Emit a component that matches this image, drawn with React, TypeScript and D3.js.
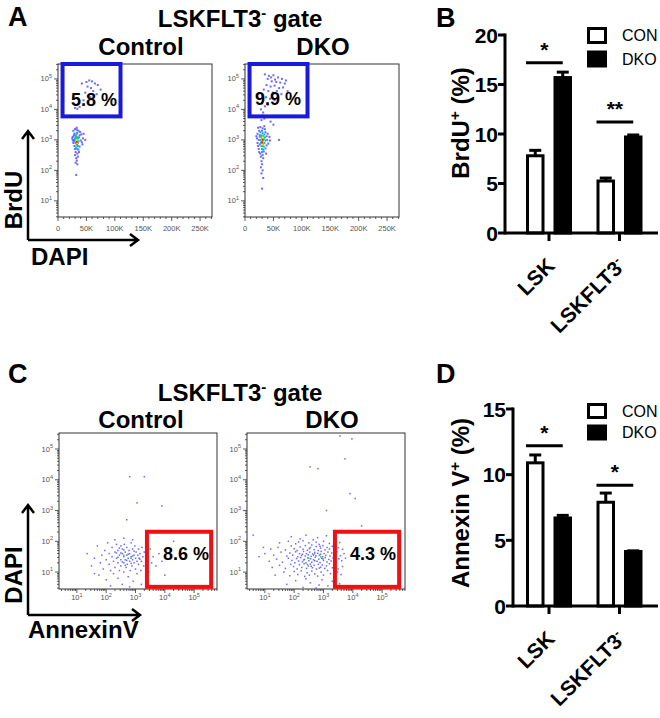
import React from 'react';
import * as d3 from 'd3';

const FONT = 'Arial, "Liberation Sans", Helvetica, sans-serif';

// ---------- bar charts (B: BrdU+, D: Annexin V+) ----------
const groups = ['LSK', 'LSKFLT3'];
const seriesNames = ['CON', 'DKO'];

const brduCon = [7.8, 5.25];
const brduConErr = [0.55, 0.3];
const brduDko = [15.7, 9.7];
const brduDkoErr = [0.55, 0.2];
const brduTicks = [0, 5, 10, 15, 20];
const brduStars = ['*', '**'];
const brduStarLevel = [17.2, 11.2];

const annexCon = [10.9, 7.9];
const annexConErr = [0.6, 0.7];
const annexDko = [6.7, 4.15];
const annexDkoErr = [0.2, 0.05];
const annexTicks = [0, 5, 10, 15];
const annexStars = ['*', '*'];
const annexStarLevel = [12.2, 9.2];

// ---------- flow plots ----------
const brduGatePct = ['5.8 %', '9.9 %'];
const annexGatePct = ['8.6 %', '4.3 %'];
const dapiTicks = [0, 50000, 100000, 150000, 200000, 250000];
const dapiTickLabels = ['0', '50K', '100K', '150K', '200K', '250K'];

// events: [DAPI (K), log10 BrdU, density level]
const brduControlEvents = [
  [27, 3.3, 0], [30, 3.36, 0], [33, 3.33, 0], [36, 3.3, 0], [39, 3.26, 0], [29, 3.21, 0], [34, 3.23, 0],
  [41, 3.18, 0], [26, 3.1, 0], [31, 3.13, 0], [37, 3.08, 0], [44, 3.05, 0], [28, 3.0, 0], [40, 2.98, 0],
  [27, 2.9, 0], [42, 2.92, 0], [29, 2.8, 0], [38, 2.78, 0], [30, 2.7, 0], [36, 2.68, 0], [31, 2.6, 0],
  [34, 2.55, 0], [30, 2.5, 0], [35, 2.45, 0], [32, 2.4, 0], [33, 2.32, 0], [31, 2.25, 0], [34, 2.2, 0],
  [32, 1.85, 0], [48, 3.0, 0], [45, 3.2, 0], [25, 3.05, 0], [33, 3.4, 0], [35, 2.9, 0], [29, 2.95, 0],
  [28, 3.15, 0], [38, 3.15, 0], [43, 2.85, 0], [26, 2.98, 0], [37, 2.6, 0],
  [31, 3.15, 1], [33, 3.1, 1], [35, 3.05, 1], [32, 3.0, 1], [34, 2.95, 1], [31, 2.9, 1], [33, 2.85, 1],
  [35, 2.8, 1], [32, 2.75, 1], [34, 2.7, 1], [33, 3.2, 1], [30, 3.05, 1], [36, 2.95, 1],
  [33, 3.05, 2], [34, 2.95, 2], [32, 2.9, 2], [33, 2.85, 2], [34, 3.0, 2], [32, 3.08, 2],
  [33, 2.95, 3], [34, 2.9, 3], [33, 3.0, 3], [33, 2.93, 4],
  [50, 4.9, 0], [55, 4.95, 0], [60, 4.92, 0], [65, 4.85, 0], [70, 4.8, 0], [52, 4.75, 0], [58, 4.7, 0],
  [62, 4.6, 0], [48, 4.55, 0], [68, 4.5, 0], [75, 4.65, 0], [30, 4.05, 0], [34, 4.02, 0], [38, 4.08, 0],
  [45, 4.3, 0], [57, 4.4, 0], [42, 4.85, 0],
];

const brduDkoEvents = [
  [23, 3.4, 0], [27, 3.42, 0], [31, 3.38, 0], [35, 3.35, 0], [25, 3.3, 0], [30, 3.3, 0], [36, 3.25, 0],
  [40, 3.2, 0], [22, 3.2, 0], [26, 3.15, 0], [38, 3.12, 0], [43, 3.1, 0], [21, 3.05, 0], [24, 3.0, 0],
  [39, 3.0, 0], [44, 2.98, 0], [22, 2.9, 0], [41, 2.88, 0], [23, 2.8, 0], [38, 2.82, 0], [24, 2.7, 0],
  [36, 2.72, 0], [25, 2.6, 0], [33, 2.62, 0], [27, 2.55, 0], [31, 2.5, 0], [28, 2.45, 0], [32, 2.4, 0],
  [29, 2.3, 0], [30, 2.2, 0], [28, 2.1, 0], [31, 2.0, 0], [29, 1.9, 0], [32, 1.75, 0], [30, 1.4, 0],
  [60, 3.0, 0], [50, 3.5, 0], [45, 3.6, 0], [26, 2.85, 0], [37, 2.55, 0], [34, 3.45, 0], [20, 3.12, 0],
  [27, 3.25, 1], [31, 3.22, 1], [34, 3.18, 1], [26, 3.1, 1], [29, 3.1, 1], [35, 3.08, 1], [27, 3.0, 1],
  [36, 2.98, 1], [28, 2.9, 1], [34, 2.9, 1], [29, 2.8, 1], [33, 2.78, 1], [30, 2.7, 1], [32, 2.68, 1],
  [30, 2.6, 1],
  [29, 3.15, 2], [32, 3.12, 2], [30, 3.05, 2], [33, 3.02, 2], [29, 2.95, 2], [31, 2.9, 2], [32, 2.85, 2],
  [30, 2.8, 2], [30, 3.0, 3], [31, 3.08, 3], [32, 2.95, 3], [31, 2.85, 3], [31, 3.0, 4], [30, 2.92, 4],
  [35, 5.15, 0], [42, 5.1, 0], [50, 5.12, 0], [58, 5.05, 0], [65, 5.0, 0], [72, 4.95, 0], [40, 5.0, 0],
  [47, 4.92, 0], [55, 4.9, 0], [62, 4.88, 0], [70, 4.85, 0], [38, 4.8, 0], [45, 4.75, 0], [52, 4.78, 0],
  [60, 4.7, 0], [67, 4.72, 0], [33, 4.65, 0], [41, 4.6, 0], [49, 4.55, 0], [56, 4.6, 0], [64, 4.5, 0],
  [30, 4.45, 0], [37, 4.4, 0], [44, 4.35, 0], [52, 4.3, 0], [30, 4.2, 0], [35, 4.1, 0], [28, 4.0, 0],
  [32, 3.9, 0], [31, 3.8, 0], [34, 3.7, 0], [29, 3.65, 0], [40, 4.15, 0], [58, 4.45, 0], [75, 4.6, 0],
  [46, 5.05, 0], [53, 4.98, 0],
];

// events: [log10 AnnexinV, log10 DAPI, density level]
const annexControlEvents = [
  [1.35, 1.6, 0], [1.5, 1.2, 0], [1.6, 1.45, 0], [1.7, 1.85, 0], [1.75, 0.9, 0], [1.8, 1.3, 0], [1.85, 1.55, 0],
  [1.9, 1.1, 0], [1.95, 1.7, 0], [2.0, 1.4, 0], [2.0, 0.75, 0], [2.05, 1.95, 0], [2.1, 1.25, 0], [2.1, 1.6, 0],
  [2.15, 1.05, 0], [2.2, 1.5, 0], [2.2, 1.8, 0], [2.25, 1.35, 0], [2.25, 0.95, 0], [2.3, 1.65, 0], [2.3, 1.15, 0],
  [2.35, 1.45, 0], [2.35, 1.9, 0], [2.4, 1.3, 0], [2.4, 1.7, 0], [2.4, 0.8, 0], [2.45, 1.55, 0], [2.45, 1.05, 0],
  [2.5, 1.4, 0], [2.5, 1.85, 0], [2.5, 1.2, 0], [2.55, 1.6, 0], [2.55, 0.6, 0], [2.55, 1.75, 0], [2.6, 1.3, 0],
  [2.6, 1.5, 0], [2.6, 1.0, 0], [2.62, 1.9, 0], [2.65, 1.4, 0], [2.65, 1.65, 0], [2.68, 1.15, 0], [2.7, 1.55, 0],
  [2.7, 1.8, 0], [2.72, 1.25, 0], [2.75, 1.45, 0], [2.75, 0.85, 0], [2.78, 1.7, 0], [2.8, 1.35, 0], [2.8, 1.6, 0],
  [2.82, 1.05, 0], [2.85, 1.5, 0], [2.85, 1.95, 0], [2.88, 1.2, 0], [2.9, 1.4, 0], [2.9, 1.75, 0], [2.92, 0.7, 0],
  [2.95, 1.55, 0], [2.95, 1.3, 0], [2.98, 1.85, 0], [3.0, 1.45, 0], [3.0, 1.1, 0], [3.02, 1.65, 0], [3.05, 1.35, 0],
  [3.05, 0.95, 0], [3.08, 1.55, 0], [3.1, 1.75, 0], [3.1, 1.25, 0], [3.12, 1.45, 0], [3.15, 1.6, 0], [3.18, 1.05, 0],
  [3.2, 1.35, 0], [3.22, 1.8, 0], [3.25, 1.5, 0], [3.28, 1.2, 0], [3.3, 1.65, 0], [3.35, 1.4, 0], [3.4, 1.55, 0],
  [3.45, 1.0, 0], [3.5, 1.75, 0], [3.55, 1.3, 0], [3.6, 1.5, 0], [3.7, 1.2, 0], [3.8, 1.6, 0], [3.9, 1.35, 0],
  [4.0, 0.9, 0], [2.3, 2.05, 0], [2.6, 2.1, 0], [2.9, 2.05, 0], [1.6, 0.95, 0], [2.15, 0.55, 0], [2.8, 0.52, 0],
  [3.2, 0.6, 0], [2.5, 1.62, 0], [2.7, 1.38, 0], [2.6, 1.72, 0], [2.85, 1.28, 0], [2.4, 1.48, 0], [2.95, 1.68, 0],
  [2.55, 1.33, 0], [2.75, 1.58, 0], [2.65, 1.22, 0], [2.45, 1.78, 0], [3.15, 1.42, 0], [2.35, 1.62, 0], [2.9, 1.52, 0],
  [2.8, 4.1, 0], [3.3, 4.1, 0], [3.05, 3.25, 0], [3.9, 3.15, 0], [2.7, 2.7, 0], [4.3, 2.0, 0],
  [2.6, 1.55, 2], [2.85, 1.45, 2],
];

const annexDkoEvents = [
  [0.6, 2.2, 0], [0.8, 1.5, 0], [0.95, 1.8, 0], [1.0, 1.6, 0], [1.15, 1.35, 0], [1.2, 1.75, 0], [1.25, 1.15, 0],
  [1.3, 1.55, 0], [1.35, 0.9, 0], [1.4, 1.42, 0], [1.45, 1.8, 0], [1.5, 1.22, 0], [1.5, 1.95, 0], [1.55, 1.65, 0],
  [1.6, 1.32, 0], [1.65, 1.0, 0], [1.7, 1.72, 0], [1.7, 1.12, 0], [1.75, 1.52, 0], [1.75, 0.6, 0], [1.8, 1.45, 0],
  [1.8, 2.0, 0], [1.85, 1.62, 0], [1.85, 0.88, 0], [1.88, 1.25, 0], [1.9, 1.85, 0], [1.9, 2.15, 0], [1.92, 1.38, 0],
  [1.95, 1.55, 0], [1.98, 1.18, 0], [2.0, 1.76, 0], [2.0, 1.02, 0], [2.02, 1.3, 0], [2.05, 1.66, 0], [2.05, 1.92, 0],
  [2.05, 0.72, 0], [2.08, 1.44, 0], [2.1, 1.7, 0], [2.1, 1.1, 0], [2.12, 1.5, 0], [2.12, 0.92, 0], [2.15, 1.36, 0],
  [2.15, 1.98, 0], [2.18, 1.6, 0], [2.18, 1.24, 0], [2.2, 1.82, 0], [2.2, 2.08, 0], [2.22, 1.47, 0], [2.24, 1.04, 0],
  [2.25, 1.54, 0], [2.26, 1.15, 0], [2.28, 1.33, 0], [2.28, 1.58, 0], [2.3, 1.74, 0], [2.3, 2.02, 0], [2.3, 0.5, 0],
  [2.32, 1.67, 0], [2.32, 1.39, 0], [2.34, 1.27, 0], [2.35, 1.41, 0], [2.36, 0.86, 0], [2.38, 1.86, 0], [2.38, 1.52, 0],
  [2.4, 1.3, 0], [2.4, 2.2, 0], [2.4, 0.78, 0], [2.42, 1.6, 0], [2.42, 1.12, 0], [2.44, 0.98, 0], [2.45, 1.71, 0],
  [2.46, 1.46, 0], [2.48, 1.56, 0], [2.48, 1.2, 0], [2.5, 1.37, 0], [2.5, 1.95, 0], [2.52, 1.76, 0], [2.52, 0.9, 0],
  [2.53, 1.65, 0], [2.55, 1.8, 0], [2.55, 1.26, 0], [2.55, 0.65, 0], [2.56, 1.43, 0], [2.58, 1.51, 0], [2.58, 1.19, 0],
  [2.6, 1.88, 0], [2.6, 1.32, 0], [2.6, 1.03, 0], [2.62, 1.14, 0], [2.63, 1.59, 0], [2.65, 2.05, 0], [2.66, 1.4, 0],
  [2.66, 1.55, 0], [2.68, 1.73, 0], [2.68, 1.22, 0], [2.7, 1.64, 0], [2.7, 1.37, 0], [2.7, 0.94, 0], [2.72, 1.48, 0],
  [2.74, 1.53, 0], [2.75, 1.83, 0], [2.75, 1.97, 0], [2.75, 0.48, 0], [2.76, 1.1, 0], [2.78, 1.35, 0], [2.8, 1.61, 0],
  [2.8, 0.87, 0], [2.8, 2.12, 0], [2.82, 1.7, 0], [2.82, 1.25, 0], [2.84, 1.42, 0], [2.85, 1.9, 0], [2.85, 0.58, 0],
  [2.86, 1.55, 0], [2.86, 1.13, 0], [2.88, 1.31, 0], [2.88, 1.84, 0], [2.9, 1.78, 0], [2.9, 1.58, 0], [2.9, 1.16, 0],
  [2.92, 1.67, 0], [2.92, 1.0, 0], [2.94, 1.45, 0], [2.95, 0.75, 0], [2.96, 1.23, 0], [2.97, 1.5, 0], [2.98, 1.86, 0],
  [2.98, 1.43, 0], [3.0, 1.38, 0], [3.0, 2.0, 0], [3.0, 0.9, 0], [3.02, 1.6, 0], [3.04, 1.12, 0], [3.05, 1.72, 0],
  [3.06, 1.47, 0], [3.08, 1.54, 0], [3.1, 1.2, 0], [3.1, 2.18, 0], [3.12, 1.8, 0], [3.12, 1.33, 0], [3.14, 1.05, 0],
  [3.15, 1.65, 0], [3.15, 0.55, 0], [3.18, 1.41, 0], [3.2, 1.75, 0], [3.2, 1.93, 0], [3.2, 1.27, 0], [3.22, 1.52, 0],
  [3.24, 0.95, 0], [3.26, 1.36, 0], [3.28, 1.62, 0], [3.3, 1.84, 0], [3.3, 1.14, 0], [3.3, 0.7, 0], [3.33, 1.46, 0],
  [3.35, 2.03, 0], [3.35, 0.88, 0], [3.36, 1.56, 0], [3.38, 1.22, 0], [3.4, 1.71, 0], [3.4, 2.1, 0], [3.42, 1.32, 0],
  [3.45, 1.66, 0], [3.48, 1.0, 0], [3.5, 1.79, 0], [3.5, 1.1, 0], [3.52, 1.43, 0], [3.55, 1.96, 0], [3.55, 0.62, 0],
  [3.58, 1.53, 0], [3.6, 0.92, 0], [3.62, 1.37, 0], [3.65, 1.74, 0], [3.65, 1.18, 0], [3.7, 1.6, 0], [3.75, 1.45, 0],
  [3.56, 5.42, 0], [3.97, 5.33, 0], [3.73, 4.68, 0], [3.9, 3.55, 0], [4.08, 3.39, 0], [2.81, 4.36, 0], [2.54, 4.42, 0],
  [3.1, 3.0, 0], [4.3, 2.5, 0],
  [2.5, 1.45, 2], [2.7, 1.6, 2], [2.45, 1.25, 2], [2.9, 1.5, 2],
];

const densityColors = ['#4646ff', '#00b8f0', '#2ccd3a', '#e6e600', '#ff3000'];

// ---------- scales for the flow plots ----------
const dapiX = d3.scaleLinear().domain([0, 271000]).range([0, 154]);
const brduY = d3.scaleLog().domain([10 ** 0.47, 10 ** 5.49]).range([153, 0]);
const annexX = d3.scaleLog().domain([10 ** 0.39, 10 ** 5.78]).range([0, 158]);
const dapiLogY = d3.scaleLog().domain([10 ** 0.45, 10 ** 5.52]).range([156, 0]);

const logTicks = (scale) => {
  const [lo, hi] = scale.domain();
  const out = [];
  for (let e = 0; e <= 5; e++) {
    for (let m = 1; m <= 9; m++) {
      const v = m * 10 ** e;
      if (v >= lo && v <= hi) out.push({ v, major: m === 1, label: m === 1 && e > 0 ? String(e) : null });
    }
  }
  return out;
};

const linTicks = () => {
  const out = [];
  for (let v = 0; v <= 270000; v += 10000) {
    const i = dapiTicks.indexOf(v);
    out.push({ v, major: i >= 0, label: i >= 0 ? dapiTickLabels[i] : null });
  }
  return out;
};

const Pow = ({ exp }) => (
  <>
    <tspan>10</tspan>
    <tspan dy={-3.5} fontSize={5.5}>{exp}</tspan>
  </>
);

const FlowPlot = ({ ox, oy, xScale, yScale, xTicks, xLog, events, gate, gateColor, gateText, textPos, xLabelGap, dot }) => {
  const [, w] = xScale.range();
  const [h] = yScale.range();
  const gx0 = xScale(gate[0]);
  const gx1 = xScale(gate[1]);
  const gy0 = yScale(gate[2]);
  const gy1 = yScale(gate[3]);
  const sorted = [...events].sort((a, b) => a[2] - b[2]);
  return (
    <g transform={`translate(${ox},${oy})`}>
      <rect x={0} y={0} width={w} height={h} fill="#fff" stroke="#333" strokeWidth={1} />
      {sorted.map((d, i) => (
        <rect key={i} x={xScale(d[0]) - dot / 2} y={yScale(d[1]) - dot / 2} width={dot} height={dot}
          fill={densityColors[d[2]]} opacity={d[2] === 0 ? 0.8 : 1} />
      ))}
      {logTicks(yScale).map((t, i) => (
        <g key={'y' + i}>
          <line x1={0} x2={t.major ? -4 : -2} y1={yScale(t.v)} y2={yScale(t.v)} stroke="#333" strokeWidth={0.8} />
          {t.label && (
            <text x={-6} y={yScale(t.v) + 2.5} textAnchor="end" fontSize={7.5} fill="#555" fontFamily={FONT}>
              <Pow exp={t.label} />
            </text>
          )}
        </g>
      ))}
      {xTicks.map((t, i) => (
        <g key={'x' + i}>
          <line x1={xScale(t.v)} x2={xScale(t.v)} y1={h} y2={h + (t.major ? 4 : 2)} stroke="#333" strokeWidth={0.8} />
          {t.label && (
            <text x={xScale(t.v)} y={h + xLabelGap} textAnchor="middle" fontSize={7.5} fill="#555" fontFamily={FONT}>
              {xLog ? <Pow exp={t.label} /> : t.label}
            </text>
          )}
        </g>
      ))}
      <rect x={gx0} y={gy1} width={gx1 - gx0} height={gy0 - gy1} fill="none" stroke={gateColor} strokeWidth={4} />
      <text x={textPos[0]} y={textPos[1]} textAnchor="middle" fontSize={18} fontWeight="bold" fontFamily={FONT}>
        {gateText}
      </text>
    </g>
  );
};

const Arrows = ({ x0, y0, top, right }) => (
  <g fill="none" stroke="#000" strokeWidth={2.5}>
    <path d={`M${x0},${y0}V${top}M${x0 - 6},${top + 8}L${x0},${top}L${x0 + 6},${top + 8}`} />
    <path d={`M${x0},${y0}H${right}M${right - 8},${y0 - 6}L${right},${y0}L${right - 8},${y0 + 6}`} />
  </g>
);

const GateTitles = ({ titleY, subY, controlX, dkoX }) => (
  <g fontFamily={FONT} fontWeight="bold" textAnchor="middle">
    <text x={240} y={titleY} fontSize={24}>
      LSKFLT3<tspan dy={-9} fontSize={15}>-</tspan><tspan dy={9}> gate</tspan>
    </text>
    <text x={controlX} y={subY} fontSize={24}>Control</text>
    <text x={dkoX} y={subY} fontSize={24}>DKO</text>
  </g>
);

const BarPanel = ({ axisX, yTop, yBottom, yMax, ticks, con, conErr, dko, dkoErr, stars, starLevel,
  yLabel, yLabelY, legendTops, legendH }) => {
  const y = d3.scaleLinear().domain([0, yMax]).range([yBottom, yTop]);
  const gx = d3.scalePoint().domain(groups).range([549, 619.5]);
  const inner = d3.scaleBand().domain(seriesNames).range([-21.5, 21.5]).paddingInner(0.436);
  const bw = inner.bandwidth();
  const vals = { CON: con, DKO: dko };
  const errs = { CON: conErr, DKO: dkoErr };
  return (
    <g fontFamily={FONT}>
      {groups.map((g, gi) =>
        seriesNames.map((s) => {
          const x = gx(g) + inner(s);
          const v = vals[s][gi];
          const e = errs[s][gi];
          return (
            <g key={g + s}>
              <line x1={x + bw / 2} x2={x + bw / 2} y1={y(v)} y2={y(v + e)} stroke="#000" strokeWidth={3} />
              <line x1={x + bw / 2 - 6} x2={x + bw / 2 + 6} y1={y(v + e)} y2={y(v + e)} stroke="#000" strokeWidth={3} />
              <rect x={x} y={y(v)} width={bw} height={y(0) - y(v)} fill={s === 'CON' ? '#fff' : '#000'}
                stroke="#000" strokeWidth={3} />
            </g>
          );
        })
      )}
      <line x1={axisX} x2={axisX} y1={y(yMax) - 1.5} y2={yBottom + 1.5} stroke="#000" strokeWidth={3} />
      <line x1={axisX} x2={658} y1={yBottom} y2={yBottom} stroke="#000" strokeWidth={3} />
      {ticks.map((t) => (
        <g key={t}>
          <line x1={axisX - 7} x2={axisX} y1={y(t)} y2={y(t)} stroke="#000" strokeWidth={3} />
          <text x={axisX - 7} y={y(t)} dy="0.36em" textAnchor="end" fontSize={21} fontWeight="bold">{t}</text>
        </g>
      ))}
      {groups.map((g, gi) => {
        const x1 = gx(g) + inner('CON') - 1.5;
        const x2 = gx(g) + inner('DKO') + bw / 2;
        const ly = y(starLevel[gi]);
        return (
          <g key={'sig' + g}>
            <line x1={gx(g)} x2={gx(g)} y1={yBottom} y2={yBottom + 8} stroke="#000" strokeWidth={3} />
            <line x1={x1} x2={x2} y1={ly} y2={ly} stroke="#000" strokeWidth={3} />
            <text x={(x1 + x2) / 2} y={ly - 6} textAnchor="middle" fontSize={21} fontWeight="bold">{stars[gi]}</text>
            <text transform={`translate(${gx(g) + 7},${yBottom + 34}) rotate(-45)`} textAnchor="end"
              fontSize={21} fontWeight="bold">
              {g === 'LSK' ? 'LSK' : (<>LSKFLT3<tspan dy={-8} fontSize={13}>-</tspan></>)}
            </text>
          </g>
        );
      })}
      <text transform={`translate(469,${yLabelY}) rotate(-90)`} textAnchor="middle" fontSize={24} fontWeight="bold">
        {yLabel}<tspan dy={-9} fontSize={15}>+</tspan><tspan dy={9}> (%)</tspan>
      </text>
      {seriesNames.map((s, i) => (
        <g key={'leg' + s}>
          <rect x={588.5} y={legendTops[i]} width={17} height={legendH} fill={s === 'CON' ? '#fff' : '#000'}
            stroke="#000" strokeWidth={3} />
          <text x={622} y={legendTops[i] + legendH / 2} dy="0.36em" fontSize={16}>{s}</text>
        </g>
      ))}
    </g>
  );
};

const toLinLog = (d) => [d[0] * 1000, 10 ** d[1], d[2]];
const toLogLog = (d) => [10 ** d[0], 10 ** d[1], d[2]];

export default function App() {
  const brduGate = [8000, 110000, 5900, 10 ** 5.49];
  const annexGate = [10 ** 3.39, 10 ** 5.58, 10 ** 0.52, 10 ** 2.31];
  const dapiTicksAll = linTicks();
  const annexTicksAll = logTicks(annexX);
  return (
    <div style={{ position: 'absolute', left: 0, top: 0, background: '#fff' }}>
      <svg width={660} height={718} viewBox="0 0 660 718" style={{ display: 'block' }}>
        <rect width={660} height={718} fill="#fff" />
        <g fontFamily={FONT} fontWeight="bold" fontSize={27}>
          <text x={8} y={26}>A</text>
          <text x={436} y={27}>B</text>
          <text x={8} y={383}>C</text>
          <text x={436} y={383}>D</text>
        </g>

        {/* A */}
        <GateTitles titleY={27} subY={55} controlX={141} dkoX={323} />
        <FlowPlot ox={58} oy={64} xScale={dapiX} yScale={brduY} xTicks={dapiTicksAll} xLog={false}
          events={brduControlEvents.map(toLinLog)} gate={brduGate} gateColor="#1a1adf"
          gateText={brduGatePct[0]} textPos={[36, 42]} xLabelGap={14} dot={2} />
        <FlowPlot ox={245} oy={64} xScale={dapiX} yScale={brduY} xTicks={dapiTicksAll} xLog={false}
          events={brduDkoEvents.map(toLinLog)} gate={brduGate} gateColor="#1a1adf"
          gateText={brduGatePct[1]} textPos={[33, 41]} xLabelGap={14} dot={2} />
        <Arrows x0={28} y0={240} top={131} right={138} />
        <g fontFamily={FONT} fontWeight="bold" fontSize={24}>
          <text transform="translate(22,200) rotate(-90)" textAnchor="middle">BrdU</text>
          <text x={31} y={265}>DAPI</text>
        </g>

        {/* B */}
        <BarPanel axisX={505} yTop={35} yBottom={233} yMax={20} ticks={brduTicks}
          con={brduCon} conErr={brduConErr} dko={brduDko} dkoErr={brduDkoErr}
          stars={brduStars} starLevel={brduStarLevel} yLabel="BrdU" yLabelY={123}
          legendTops={[28.5, 52]} legendH={14} />

        {/* C */}
        <GateTitles titleY={401} subY={428} controlX={141} dkoX={332} />
        <FlowPlot ox={59} oy={433} xScale={annexX} yScale={dapiLogY} xTicks={annexTicksAll} xLog={true}
          events={annexControlEvents.map(toLogLog)} gate={annexGate} gateColor="#f01010"
          gateText={annexGatePct[0]} textPos={[127, 127]} xLabelGap={11} dot={1.5} />
        <FlowPlot ox={247} oy={433} xScale={annexX} yScale={dapiLogY} xTicks={annexTicksAll} xLog={true}
          events={annexDkoEvents.map(toLogLog)} gate={annexGate} gateColor="#f01010"
          gateText={annexGatePct[1]} textPos={[126, 127]} xLabelGap={11} dot={1.5} />
        <Arrows x0={28} y0={615} top={505} right={140} />
        <g fontFamily={FONT} fontWeight="bold" fontSize={24}>
          <text transform="translate(22,575) rotate(-90)" textAnchor="middle">DAPI</text>
          <text x={28} y={638}>AnnexinV</text>
        </g>

        {/* D */}
        <BarPanel axisX={513} yTop={409} yBottom={606} yMax={15} ticks={annexTicks}
          con={annexCon} conErr={annexConErr} dko={annexDko} dkoErr={annexDkoErr}
          stars={annexStars} starLevel={annexStarLevel} yLabel="Annexin V" yLabelY={503}
          legendTops={[404.5, 426]} legendH={13} />
      </svg>
    </div>
  );
}
